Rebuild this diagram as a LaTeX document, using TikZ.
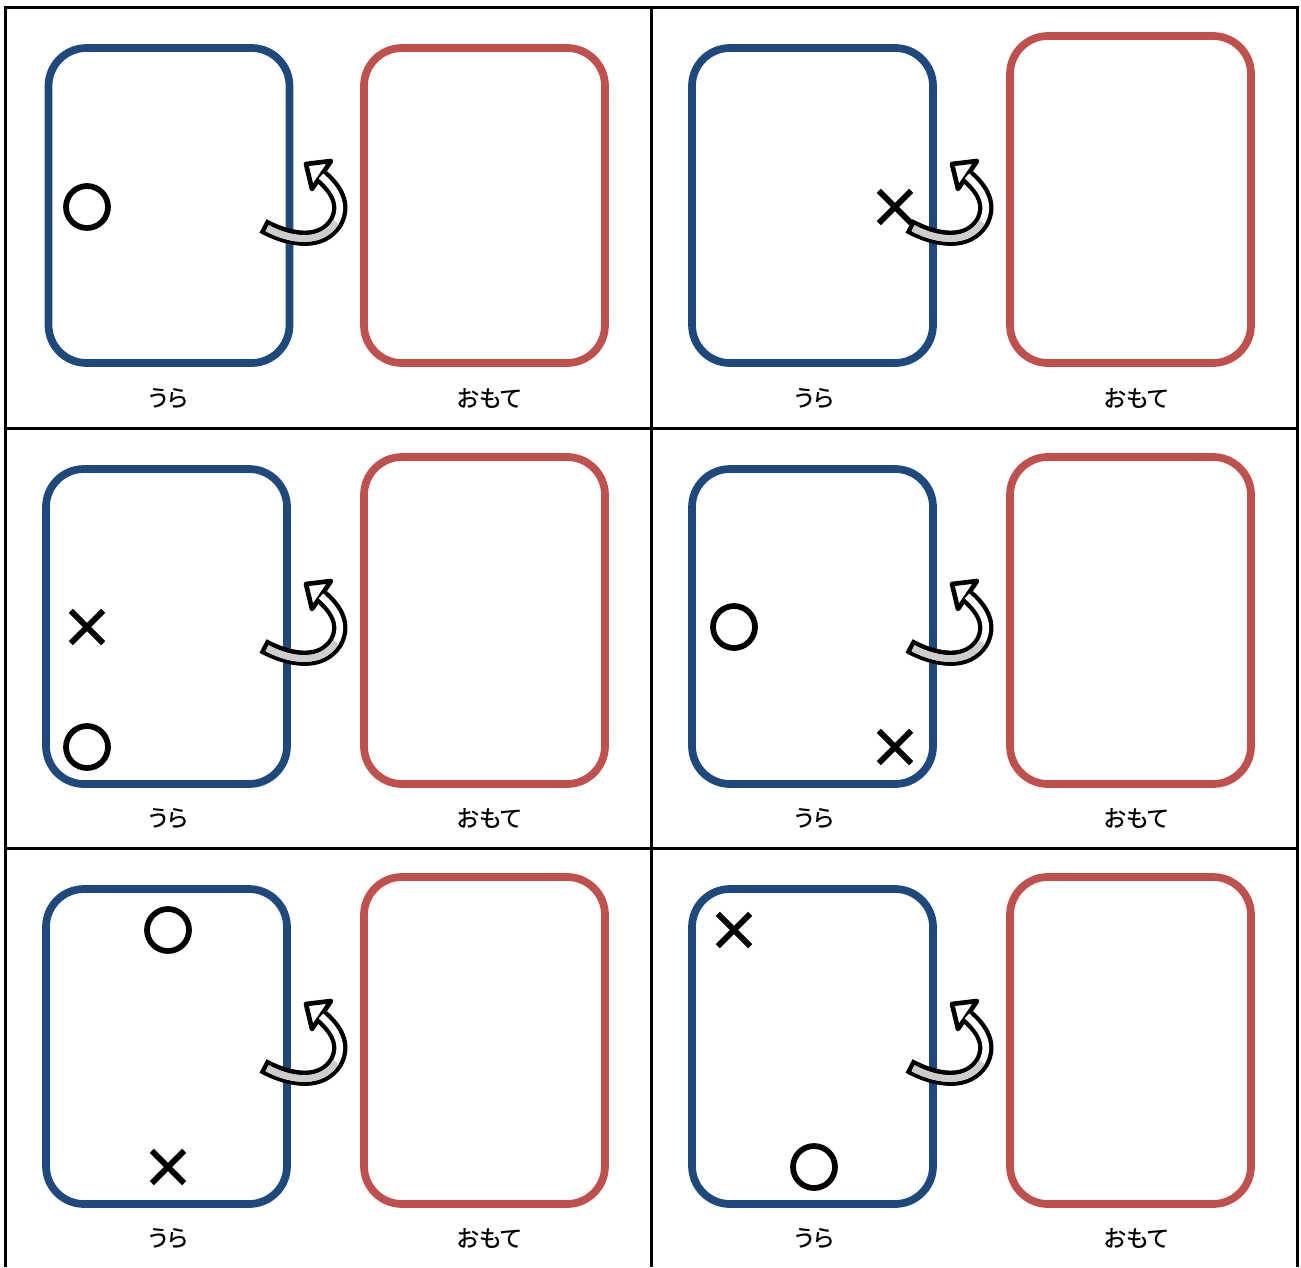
\documentclass[tikz,border=0pt]{standalone}
\usepackage{fontspec}
\newfontfamily\jpfont[RawFeature=+palt, FakeBold=0.6]{Noto Sans CJK JP}
\usetikzlibrary{fit,shapes.misc}
\definecolor{cardblue}{RGB}{31,73,125}
\definecolor{cardred}{RGB}{192,80,77}
\definecolor{arrowgray}{RGB}{205,205,205}
\tikzset{
  cardbase/.style={draw, line width=5.8pt, rounded corners=28.5pt, inner sep=0pt, outer sep=0pt},
  bluecard/.style={cardbase, cardblue},
  redcard/.style={cardbase, cardred},
  lbl/.style={font=\jpfont\fontsize{17.5}{20}\selectfont, inner sep=0pt},
  omark/.style={draw, circle, line width=4.3pt, minimum size=31.5pt, inner sep=0pt},
  xmark/.style={draw, cross out, line width=4.3pt, minimum size=20pt, inner sep=0pt},
  gridline/.style={line width=2.25pt},
  pics/fliparrow/.style={code={
    \draw[line width=11.5pt, line cap=butt, line join=round]
      (263,226) .. controls (291,241) and (322,245) .. (336,222)
      .. controls (345,205) and (337,190) .. (322,177);
    \draw[line width=3.5pt, fill=white, line join=round]
      (306,164) -- (331,161) -- (312,189) -- cycle;
    \draw[white, line width=5pt, shorten <=3.5pt]
      (263,226) .. controls (291,241) and (322,245) .. (336,222)
      .. controls (345,205) and (337,190) .. (321,176);
    \draw[arrowgray, line width=5pt, shorten <=3.5pt]
      (263,226) .. controls (291,241) and (322,245) .. (336,222);
  }}
}
\begin{document}
\begin{tikzpicture}[x=0.75pt, y=-0.75pt]
\useasboundingbox (0,0) rectangle (1301,1267);
\fill[white] (0,0) rectangle (1301,1267);

% cards, row 1
\node[bluecard, fit={(48.5,48) (289.5,363)}] (b11) {};
\node[redcard,  fit={(364,48) (605,363)}] (r11) {};
\node[bluecard, fit={(692,48) (933,363)}] (b12) {};
\node[redcard,  fit={(1010,36) (1251,363)}] (r12) {};
% row 2
\node[bluecard, fit={(46,469) (287,784)}] (b21) {};
\node[redcard,  fit={(364,457) (605,784)}] (r21) {};
\node[bluecard, fit={(692,469) (933,784)}] (b22) {};
\node[redcard,  fit={(1010,457) (1251,784)}] (r22) {};
% row 3
\node[bluecard, fit={(46,889) (287,1204)}] (b31) {};
\node[redcard,  fit={(364,877) (605,1204)}] (r31) {};
\node[bluecard, fit={(692,889) (933,1204)}] (b32) {};
\node[redcard,  fit={(1010,877) (1251,1204)}] (r32) {};

% labels
\node[lbl] (u11) at (168,398) {うら};
\node[lbl] (o11) at (489,398) {おもて};
\node[lbl] (u12) at (814,398) {うら};
\node[lbl] (o12) at (1136,398) {おもて};
\node[lbl] (u21) at (168,818) {うら};
\node[lbl] (o21) at (489,818) {おもて};
\node[lbl] (u22) at (814,818) {うら};
\node[lbl] (o22) at (1136,818) {おもて};
\node[lbl] (u31) at (168,1238) {うら};
\node[lbl] (o31) at (489,1238) {おもて};
\node[lbl] (u32) at (814,1238) {うら};
\node[lbl] (o32) at (1136,1238) {おもて};

% marks
\node[omark] (m1) at (87,207) {};
\node[xmark] (m2) at (895,207) {};
\node[xmark] (m3) at (87,627) {};
\node[omark] (m4) at (87,747) {};
\node[omark] (m5) at (734,627) {};
\node[xmark] (m6) at (895,747) {};
\node[omark] (m7) at (168,930) {};
\node[xmark] (m8) at (168,1167) {};
\node[xmark] (m9) at (734,930) {};
\node[omark] (m10) at (814,1167) {};

% flip arrows
\pic at (0,0) {fliparrow};
\pic at (646,0) {fliparrow};
\pic at (0,420) {fliparrow};
\pic at (646,420) {fliparrow};
\pic at (0,840) {fliparrow};
\pic at (646,840) {fliparrow};

% grid
\draw[gridline] (5.5,1267) -- (5.5,7) -- (1297,7) -- (1297,1267);
\draw[gridline] (651.5,7) -- (651.5,1267);
\draw[gridline] (5.5,428) -- (1297,428);
\draw[gridline] (5.5,848) -- (1297,848);
\end{tikzpicture}
\end{document}
